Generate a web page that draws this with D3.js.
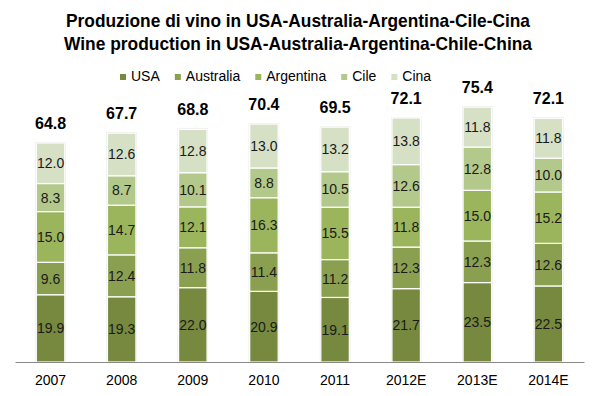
<!DOCTYPE html>
<html>
<head>
<meta charset="utf-8">
<script src="https://cdn.jsdelivr.net/npm/d3@7"></script>
<style>
    body { margin: 0; background: #fff; }
    .seg-label { font-family: "Liberation Sans", Arial, sans-serif; font-size: 14px; fill: #1a1a1a; }
    .total-label { font-family: "Liberation Sans", Arial, sans-serif; font-size: 16px; font-weight: bold; fill: #000; }
    .title { font-family: "Liberation Sans Narrow", "Liberation Sans", sans-serif; font-size: 19px; font-weight: bold; fill: #000; }
    .legend text { font-family: "Liberation Sans Narrow", "Liberation Sans", sans-serif; font-size: 14px; fill: #000; }
    .x-axis text { font-family: "Liberation Sans", Arial, sans-serif; font-size: 14px; fill: #000; }
</style>
</head>
<body>
<div id="chart"></div>
<script>

// data
let years = ["2007", "2008", "2009", "2010", "2011", "2012E", "2013E", "2014E"];
let countries = ["USA", "Australia", "Argentina", "Cile", "Cina"];
let usa       = [19.9, 19.3, 22.0, 20.9, 19.1, 21.7, 23.5, 22.5];
let australia = [9.6, 12.4, 11.8, 11.4, 11.2, 12.3, 12.3, 12.6];
let argentina = [15.0, 14.7, 12.1, 16.3, 15.5, 11.8, 15.0, 15.2];
let cile      = [8.3, 8.7, 10.1, 8.8, 10.5, 12.6, 12.8, 10.0];
let cina      = [12.0, 12.6, 12.8, 13.0, 13.2, 13.8, 11.8, 11.8];
let totals    = [64.8, 67.7, 68.8, 70.4, 69.5, 72.1, 75.4, 72.1];

let colors = ["#76893f", "#8aa050", "#9bb55c", "#b3c88b", "#d6e0c5"];

let width = 596, height = 396;

let svg = d3.select("#chart").append("svg")
    .attr("width", width)
    .attr("height", height);

// table for the stack
let series = [usa, australia, argentina, cile, cina];
let rows = years.map((y, i) => {
    let row = {year: y};
    countries.forEach((c, j) => { row[c] = series[j][i]; });
    return row;
});
let stacked = d3.stack().keys(countries)(rows);

// scales
let xScale = d3.scaleBand()
    .domain(years)
    .range([15, 584])
    .paddingInner(0.6)
    .paddingOuter(0.3);

let yScale = d3.scaleLinear()
    .domain([0, 80])
    .range([362, 91.6]);

// title
let titleLines = ["Produzione di vino in USA-Australia-Argentina-Cile-Cina",
                  "Wine production in USA-Australia-Argentina-Chile-China"];
let titleWidths = [464, 468];
svg.selectAll(".title")
    .data(titleLines)
    .enter()
    .append("text")
    .attr("class", "title")
    .attr("x", 298)
    .attr("y", (d, i) => 27 + i * 23)
    .attr("text-anchor", "middle")
    .attr("textLength", (d, i) => titleWidths[i])
    .attr("lengthAdjust", "spacingAndGlyphs")
    .text(d => d);

// legend, laid out one item after the other
let legend = svg.append("g").attr("class", "legend");
let lx = 120;
countries.forEach((c, i) => {
    let item = legend.append("g").attr("transform", `translate(${lx}, 0)`);
    item.append("rect")
        .attr("x", 0)
        .attr("y", 74)
        .attr("width", 6)
        .attr("height", 6)
        .attr("fill", colors[i]);
    let t = item.append("text")
        .attr("x", 11)
        .attr("y", 81)
        .text(c);
    lx += 11 + t.node().getComputedTextLength() + 15;
});

// bars
let layers = svg.selectAll(".layer")
    .data(stacked)
    .enter()
    .append("g")
    .attr("class", "layer")
    .attr("fill", (d, i) => colors[i]);

// faint shadow around each column
svg.insert("g", ".layer")
    .selectAll("rect")
    .data(rows)
    .enter()
    .append("rect")
    .attr("x", d => xScale(d.year) - 1)
    .attr("y", (d, i) => yScale(totals[i]) - 1)
    .attr("width", xScale.bandwidth() + 2)
    .attr("height", (d, i) => yScale(0) - yScale(totals[i]) + 1)
    .attr("fill", "#e4e4e4");

layers.selectAll("rect")
    .data(d => d)
    .enter()
    .append("rect")
    .attr("x", d => xScale(d.data.year))
    .attr("y", d => yScale(d[1]))
    .attr("width", xScale.bandwidth())
    .attr("height", d => yScale(d[0]) - yScale(d[1]))
    .attr("stroke", "#fff")
    .attr("stroke-width", 1.2);

// segment labels
layers.selectAll("text")
    .data(d => d)
    .enter()
    .append("text")
    .attr("class", "seg-label")
    .attr("x", d => xScale(d.data.year) + xScale.bandwidth() / 2)
    .attr("y", d => (yScale(d[0]) + yScale(d[1])) / 2 + 5)
    .attr("text-anchor", "middle")
    .text(d => (d[1] - d[0]).toFixed(1));

// totals
svg.selectAll(".total-label")
    .data(totals)
    .enter()
    .append("text")
    .attr("class", "total-label")
    .attr("x", (d, i) => xScale(years[i]) + xScale.bandwidth() / 2)
    .attr("y", d => yScale(d) - 14)
    .attr("text-anchor", "middle")
    .text(d => d.toFixed(1));

// x axis
let xAxisGroup = svg.append("g")
    .attr("class", "axis x-axis")
    .attr("transform", `translate(0, ${yScale(0)})`)
    .call(d3.axisBottom(xScale).tickSize(0).tickPadding(13));

xAxisGroup.select(".domain").attr("stroke", "#888").attr("stroke-width", 1.2);

</script>
</body>
</html>
